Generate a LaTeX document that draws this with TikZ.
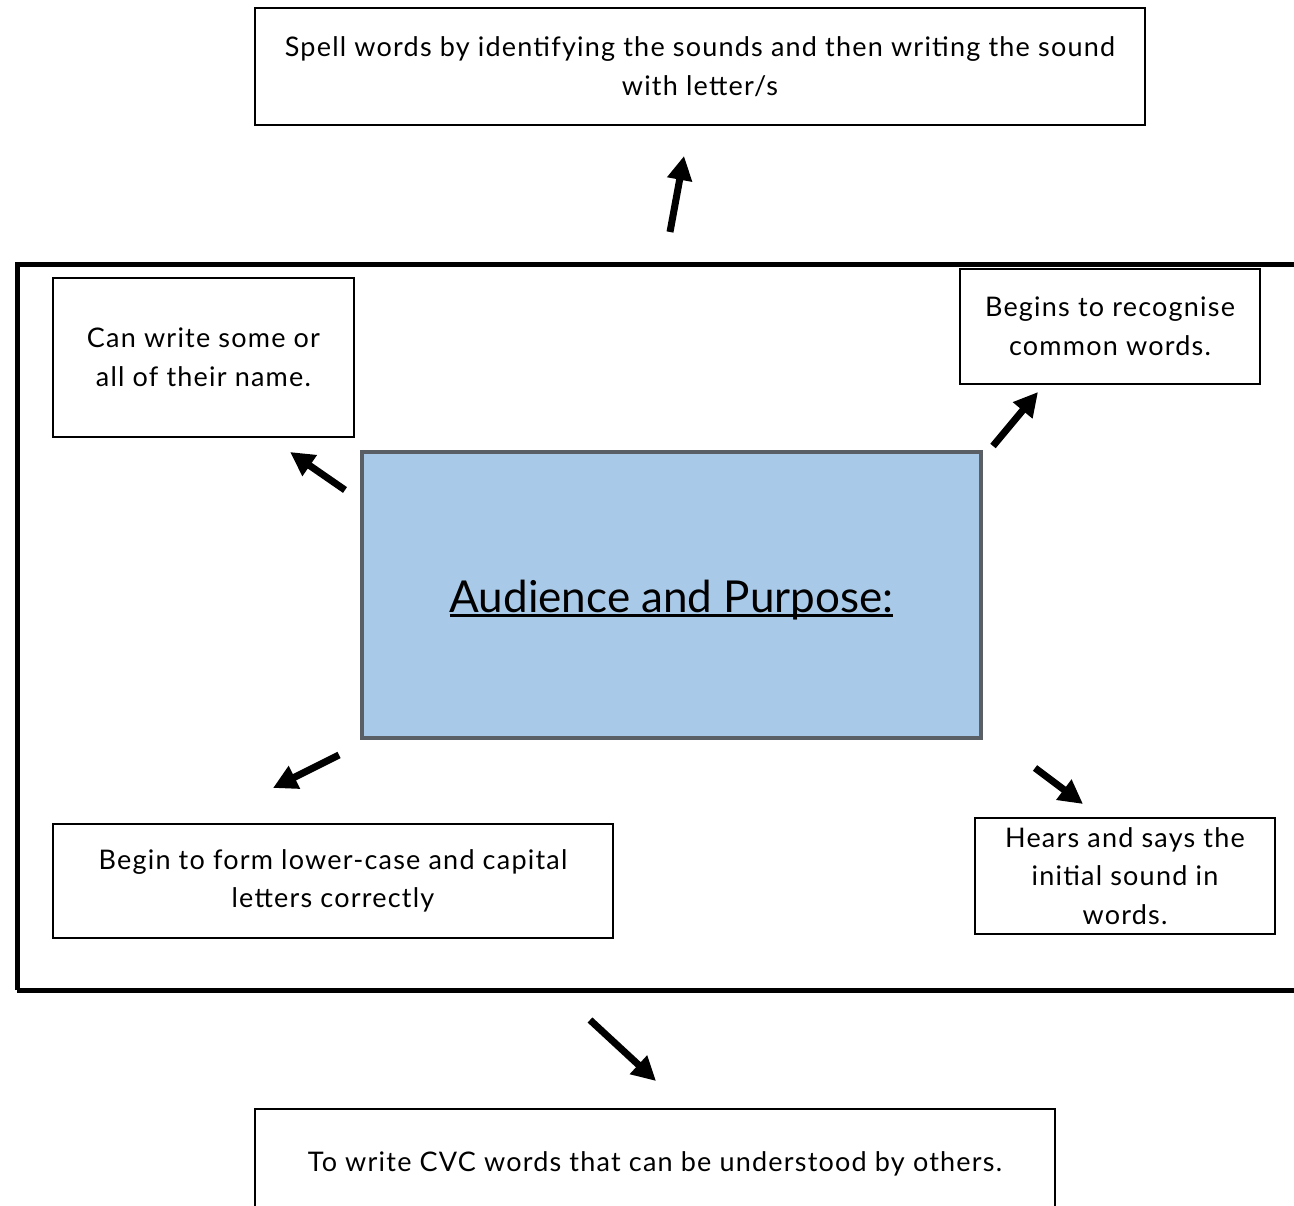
\documentclass[tikz,border=0pt]{standalone}
\usepackage{fontspec}
\setmainfont{Lato}
\newfontfamily\bodyfont[LetterSpace=4.5]{Lato}
\usetikzlibrary{arrows.meta}
\definecolor{boxblue}{HTML}{A9C9E8}
\definecolor{boxedge}{HTML}{5A5F66}
\newcommand\thickul[1]{\setbox0\hbox{#1}\rlap{\rule[-4.5pt]{\wd0}{2.5pt}}\box0}
\tikzset{
  txtbox/.style={draw=black, line width=2pt, align=center, inner sep=0pt,
    font=\bodyfont\fontsize{27}{38.5}\selectfont},
  bigarrow/.style={line width=7pt, -{Triangle[length=24pt,width=24pt]}},
}
\begin{document}
\begin{tikzpicture}[x=1pt,y=-1pt]
\useasboundingbox (0,0) rectangle (1294,1206);
\clip (0,0) rectangle (1294,1206);
% outer frame
\draw[line width=5pt] (17,990) -- (17,265) -- (1310,265);
\draw[line width=5pt] (17,990) -- (1310,990);
% boxes
\node[txtbox, minimum width=890pt, minimum height=117pt] (top) at (700,66.5)
  {Spell words by identifying the sounds and then writing the sound\\with letter/s};
\node[txtbox, minimum width=301pt, minimum height=159pt] (name) at (203.5,357.5)
  {Can write some or\\all of their name.};
\node[txtbox, minimum width=300pt, minimum height=115pt] (rec) at (1110,326.5)
  {Begins to recognise\\common words.};
\node[draw=boxedge, fill=boxblue, line width=4pt, minimum width=619pt, minimum height=286pt,
  font=\fontsize{44}{50}\selectfont, inner sep=0pt, text height=40pt, text depth=6pt]
  (center) at (671.5,595) {\thickul{Audience and Purpose:}};
\node[txtbox, minimum width=560pt, minimum height=114pt] (form) at (333,881)
  {Begin to form lower-case and capital\\letters correctly};
\node[txtbox, minimum width=300pt, minimum height=116pt] (hears) at (1125,876)
  {Hears and says the\\initial sound in\\words.};
\node[txtbox, minimum width=800pt, minimum height=110pt] (cvc) at (655,1164)
  {To write CVC words that can be understood by others.};
% arrow endpoints
\coordinate (a1s) at (670,232); \coordinate (a1e) at (684,156);
\coordinate (a2s) at (345,490); \coordinate (a2e) at (290,452);
\coordinate (a3s) at (993,446); \coordinate (a3e) at (1038,392);
\coordinate (a4s) at (339,755); \coordinate (a4e) at (273,788);
\coordinate (a5s) at (1035,768); \coordinate (a5e) at (1083,804);
\coordinate (a6s) at (590,1020); \coordinate (a6e) at (656,1081);
\draw[bigarrow] (a1s) -- (a1e);
\draw[bigarrow] (a2s) -- (a2e);
\draw[bigarrow] (a3s) -- (a3e);
\draw[bigarrow] (a4s) -- (a4e);
\draw[bigarrow] (a5s) -- (a5e);
\draw[bigarrow] (a6s) -- (a6e);
\end{tikzpicture}
\end{document}
